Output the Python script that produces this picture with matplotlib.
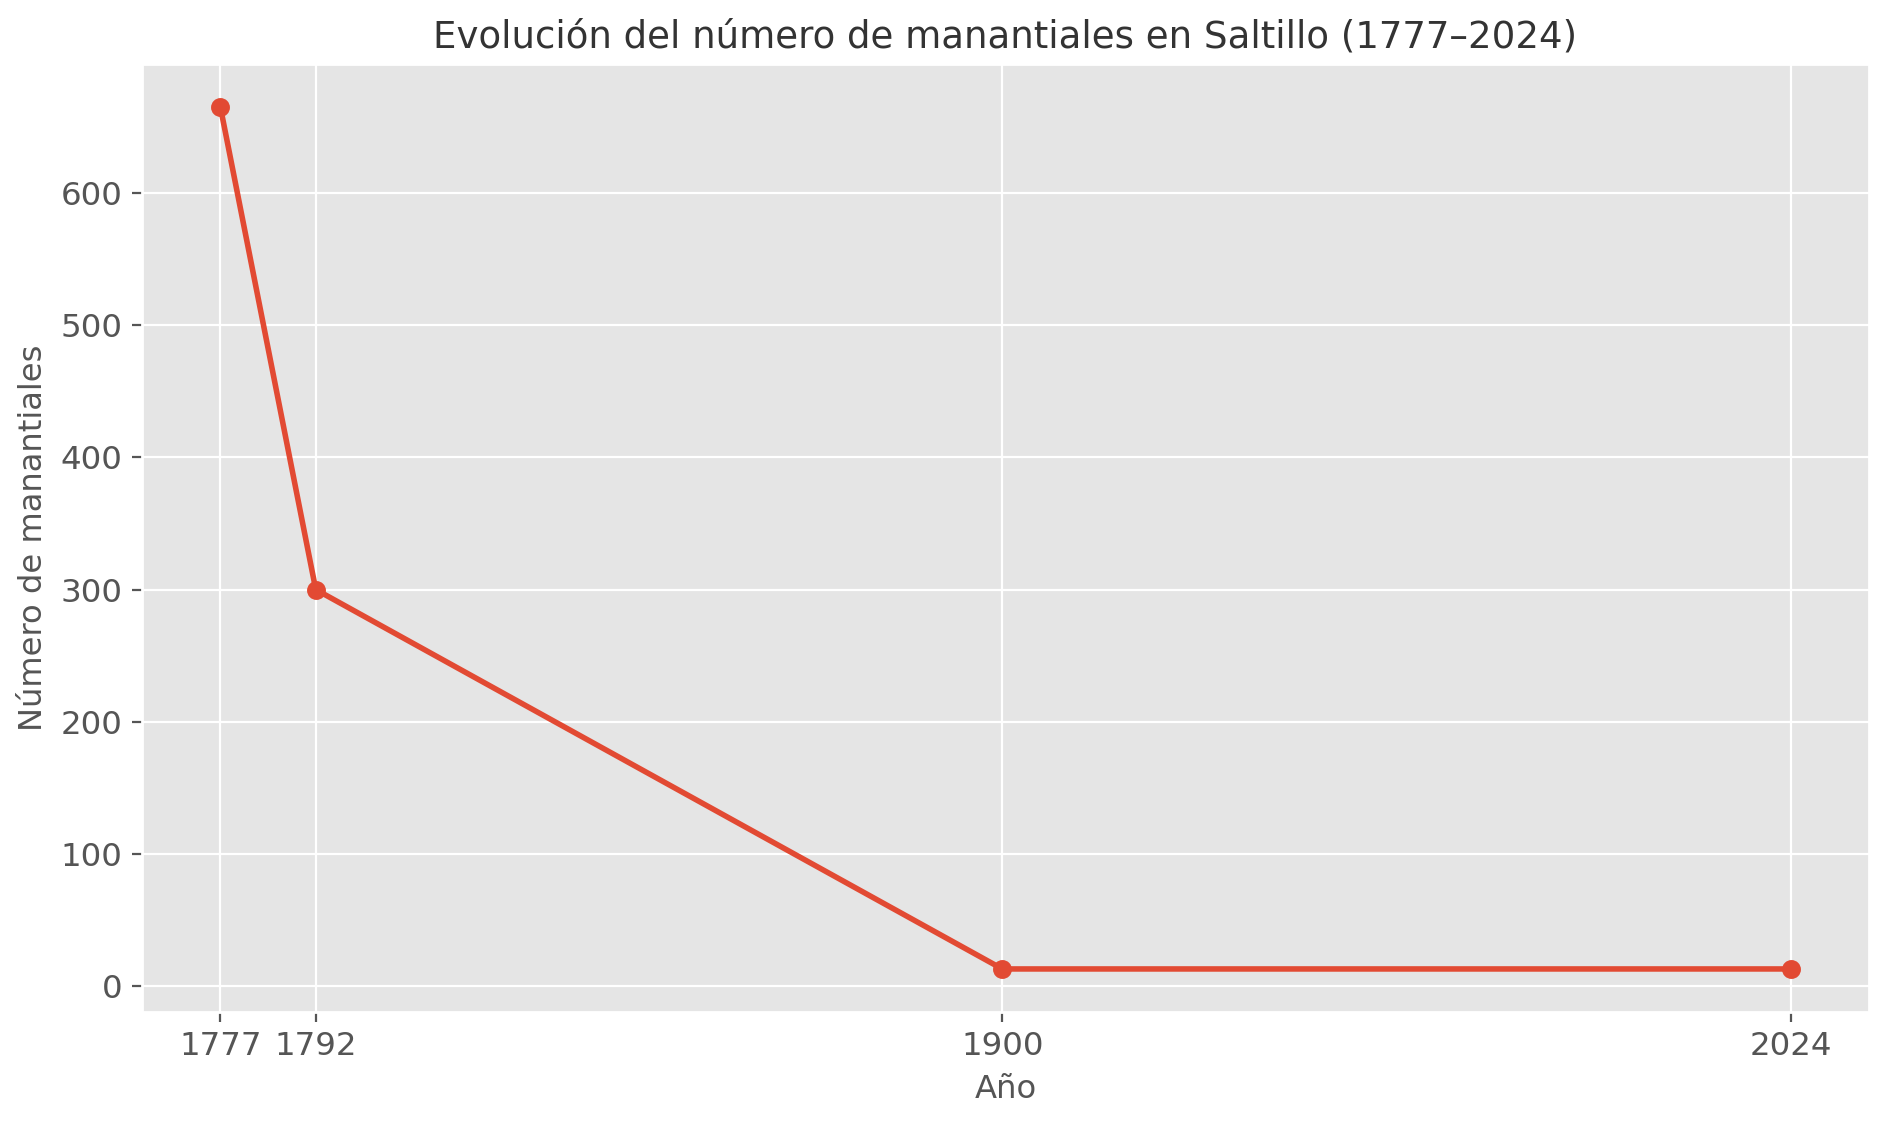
import matplotlib
matplotlib.use("Agg")
import matplotlib.pyplot as plt

plt.style.use("ggplot")

years = [1777, 1792, 1900, 2024]
springs = [665, 300, 13, 13]
year_ticks = [1777, 1792, 1900, 2024]
y_ticks = [0, 100, 200, 300, 400, 500, 600]

fig = plt.figure(figsize=(1887 / 200, 1125 / 200), dpi=200)
ax = fig.add_axes([0.0752, 0.1004, 0.9905 - 0.0752, 0.9431 - 0.1004])

ax.plot(years, springs, color="#E24A33", linewidth=2, marker="o", markersize=5.8)
ax.set_xticks(year_ticks)
ax.set_xticklabels([str(y) for y in year_ticks])
ax.set_yticks(y_ticks)
ax.tick_params(axis="both", labelsize=11.7)
ax.set_xlabel("Año", fontsize=11.6)
ax.set_ylabel("Número de manantiales", fontsize=11.6)
ax.set_title("Evolución del número de manantiales en Saltillo (1777–2024)", fontsize=13.35, color="#333333")

fig.savefig("out.png", dpi=200)
